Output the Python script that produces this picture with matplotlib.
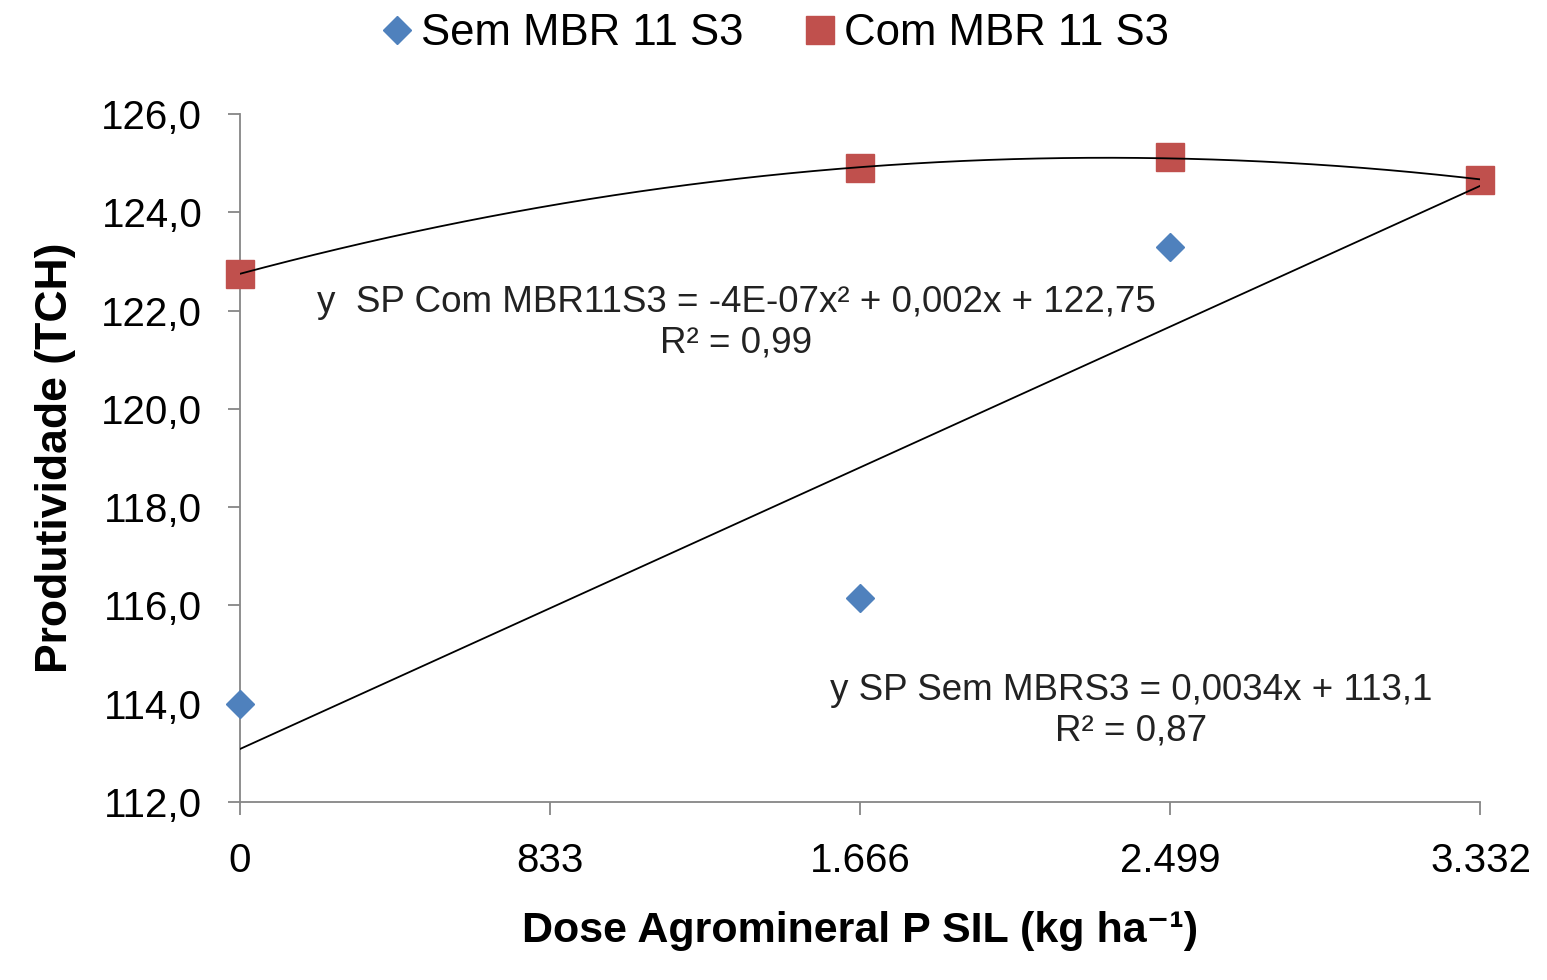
import numpy as np
import matplotlib
matplotlib.use("Agg")
from matplotlib import pyplot as plt

# doses (kg/ha) and yields (TCH)
dose = [0, 1666, 2499, 3332]
sem_mbr = [114.0, 116.15, 123.3, 124.65]
com_mbr = [122.75, 124.9, 125.12, 124.66]

xticks = [0, 833, 1666, 2499, 3332]
xticklabels = ["0", "833", "1.666", "2.499", "3.332"]
yticks = [112, 114, 116, 118, 120, 122, 124, 126]
yticklabels = ["112,0", "114,0", "116,0", "118,0", "120,0", "122,0", "124,0", "126,0"]

eq_com = "y  SP Com MBR11S3 = -4E-07x² + 0,002x + 122,75\nR² = 0,99"
eq_sem = "y SP Sem MBRS3 = 0,0034x + 113,1\nR² = 0,87"

blue = "#4F81BD"
red = "#C0504D"

plt.rcParams["font.family"] = ["Liberation Sans", "DejaVu Sans"]


def main():
    fig = plt.figure(figsize=(15.47, 9.8), dpi=100)
    ax = fig.add_axes([0.155, 0.1816, 0.802, 0.7021])

    # trend lines fitted to the data, like the excel ones
    xs = np.linspace(0, 3332, 200)
    lin = np.polyfit(dose, sem_mbr, 1)
    quad = np.polyfit(dose, com_mbr, 2)

    ax.plot(dose, sem_mbr, linestyle="", marker="D", markersize=14.5, color=blue,
            label="Sem MBR 11 S3", zorder=3, clip_on=False)
    ax.plot(dose, com_mbr, linestyle="", marker="s", markersize=20.5, color=red,
            label="Com MBR 11 S3", zorder=3, clip_on=False)
    ax.plot(xs, np.polyval(lin, xs), color="black", linewidth=1.3, zorder=4)
    ax.plot(xs, np.polyval(quad, xs), color="black", linewidth=1.3, zorder=4)

    ax.text(1333, 121.75, eq_com, ha="center", va="center", fontsize=26.5,
            color="#222222", linespacing=1.2)
    ax.text(2394, 113.85, eq_sem, ha="center", va="center", fontsize=26.5,
            color="#222222", linespacing=1.2)

    ax.set_xlim(0, 3332)
    ax.set_ylim(112, 126)
    ax.set_xticks(xticks)
    ax.set_xticklabels(xticklabels)
    ax.set_yticks(yticks)
    ax.set_yticklabels(yticklabels)
    ax.tick_params(axis="both", labelsize=29, colors="#868686", labelcolor="black",
                   length=9, width=1.3, direction="out")
    ax.tick_params(axis="x", pad=20)
    ax.tick_params(axis="y", pad=18)

    for side in ["top", "right"]:
        ax.spines[side].set_visible(False)
    for side in ["left", "bottom"]:
        ax.spines[side].set_color("#868686")
        ax.spines[side].set_linewidth(1.3)

    ax.set_xlabel("Dose Agromineral P SIL (kg ha\u207b\u00b9)", fontsize=31,
                  fontweight="bold", labelpad=22)
    ax.set_ylabel("Produtividade (TCH)", fontsize=32, fontweight="bold", labelpad=18)

    fig.legend(loc="center", bbox_to_anchor=(0.5, 0.966), ncol=2, frameon=False,
               fontsize=31.5, handletextpad=0.1, columnspacing=1.3, handlelength=0.9,
               markerscale=1.0)

    fig.savefig("out.png", dpi=100)


if __name__ == "__main__":
    main()
